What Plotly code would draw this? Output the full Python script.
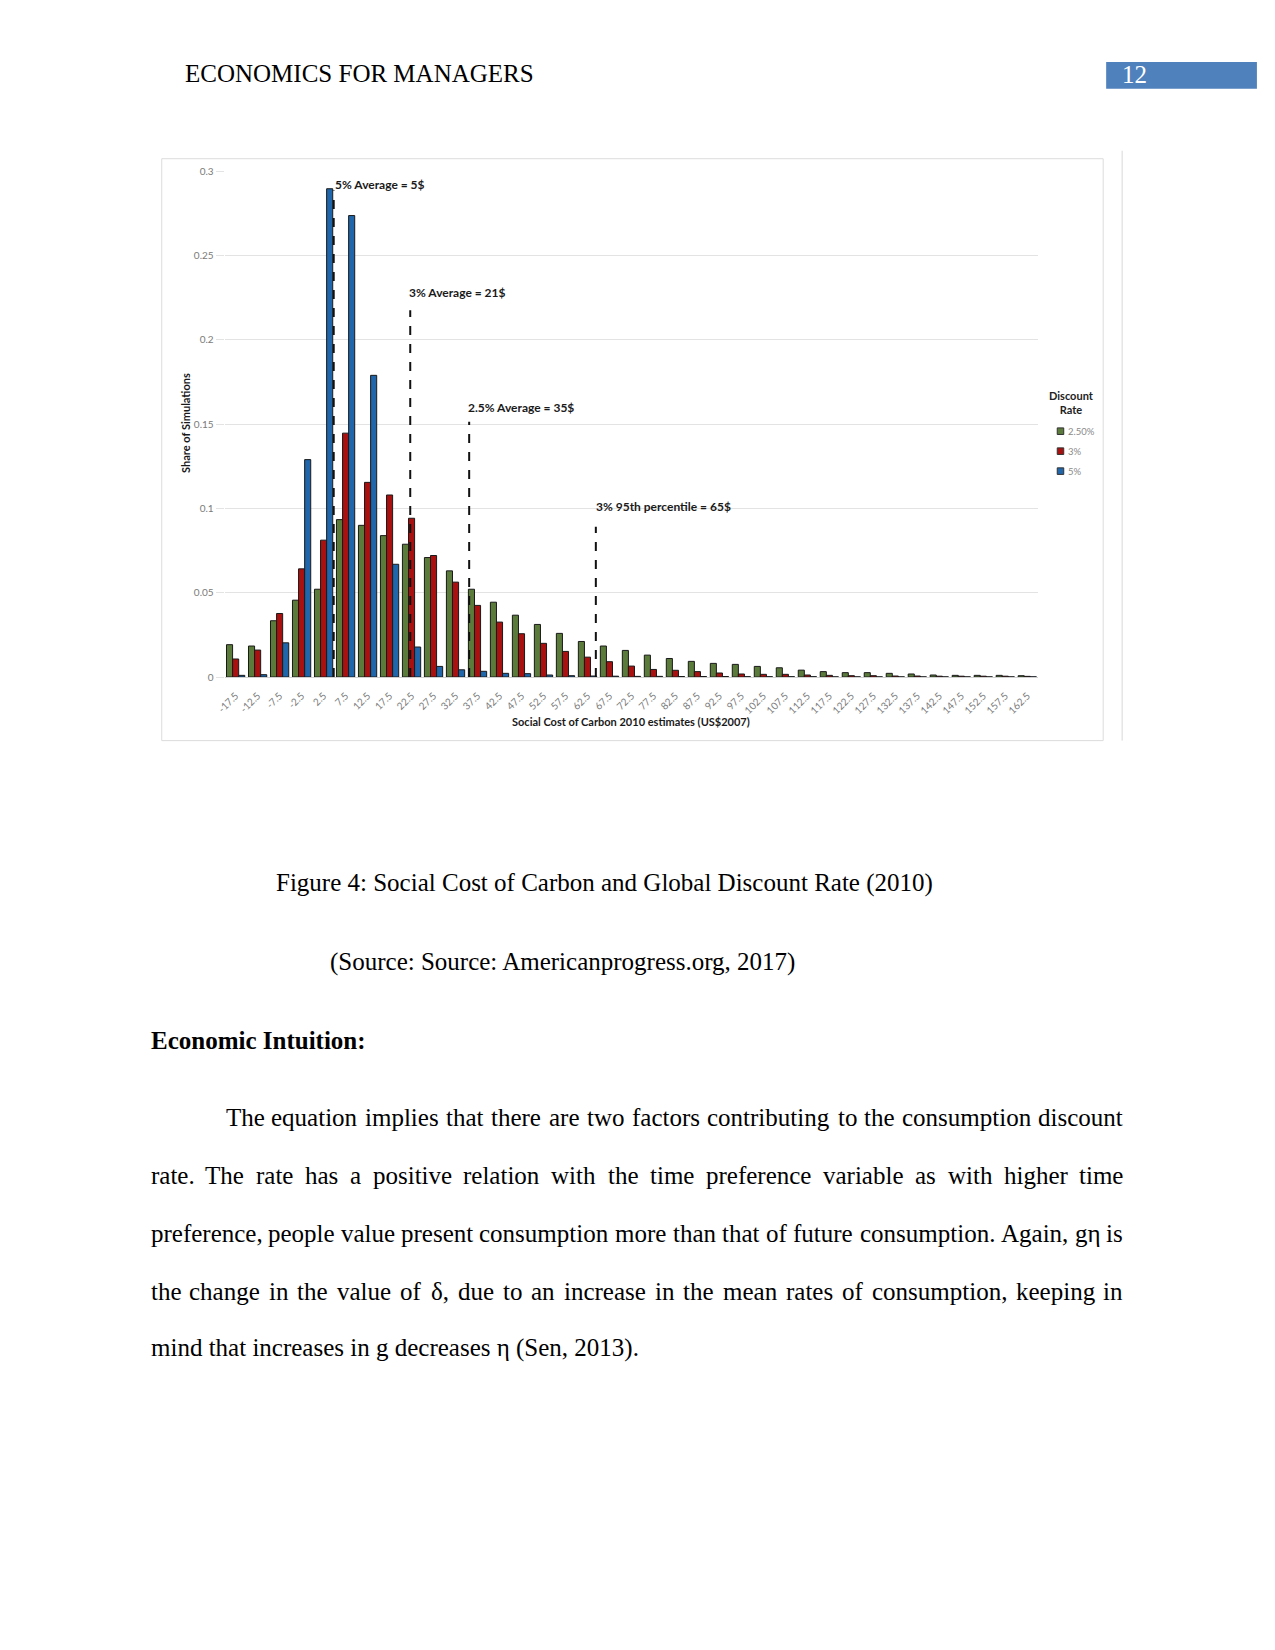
import plotly.graph_objects as go

# ---------------- data ----------------
categories = ["-17.5", "-12.5", "-7.5", "-2.5", "2.5", "7.5", "12.5", "17.5", "22.5", "27.5",
              "32.5", "37.5", "42.5", "47.5", "52.5", "57.5", "62.5", "67.5", "72.5", "77.5",
              "82.5", "87.5", "92.5", "97.5", "102.5", "107.5", "112.5", "117.5", "122.5", "127.5",
              "132.5", "137.5", "142.5", "147.5", "152.5", "157.5", "162.5"]
share_2_5 = [0.0192, 0.0184, 0.0334, 0.0456, 0.0521, 0.0934, 0.0900, 0.0839, 0.0788, 0.0709,
             0.0630, 0.0521, 0.0444, 0.0367, 0.0312, 0.0259, 0.0211, 0.0184, 0.0158, 0.0130,
             0.0110, 0.0093, 0.0081, 0.0075, 0.0063, 0.0055, 0.0041, 0.0032, 0.0026, 0.0026,
             0.0022, 0.0018, 0.0012, 0.0010, 0.0010, 0.0010, 0.0008]
share_3 = [0.0107, 0.0160, 0.0377, 0.0642, 0.0812, 0.1447, 0.1155, 0.1080, 0.0942, 0.0721,
           0.0563, 0.0425, 0.0326, 0.0257, 0.0200, 0.0152, 0.0118, 0.0091, 0.0065, 0.0045,
           0.0040, 0.0032, 0.0024, 0.0018, 0.0016, 0.0016, 0.0012, 0.0010, 0.0008, 0.0008,
           0.0006, 0.0006, 0.0005, 0.0005, 0.0005, 0.0005, 0.0004]
share_5 = [0.0010, 0.0014, 0.0203, 0.1290, 0.2897, 0.2738, 0.1790, 0.0669, 0.0178, 0.0063,
           0.0043, 0.0034, 0.0022, 0.0020, 0.0012, 0.0008, 0.0006, 0.0005, 0.0004, 0.0004,
           0.0003, 0.0003, 0.0003, 0.0002, 0.0002, 0.0002, 0.0002, 0.0001, 0.0001, 0.0001,
           0.0001, 0.0001, 0.0001, 0.0001, 0.0001, 0.0001, 0.0001]
series_names = ["2.50%", "3%", "5%"]

y_tick_vals = [0, 0.05, 0.1, 0.15, 0.2, 0.25, 0.3]
y_tick_text = ["0", "0.05", "0.1", "0.15", "0.2", "0.25", "0.3"]

# reference lines: label, position on the $ axis (as drawn), top of line (share), label height (share)
ref_labels = ["5% Average = 5$", "3% Average = 21$", "2.5% Average = 35$", "3% 95th percentile = 65$"]
ref_usd = [4.8, 22.2, 35.6, 64.4]
ref_top = [0.2887, 0.2176, 0.1514, 0.0892]
ref_label_y = [0.2922, 0.2283, 0.1600, 0.1009]
ref_label_dx = [-0.05, -0.15, -0.15, -0.1]

header_text = "ECONOMICS FOR MANAGERS"
page_number = "12"
caption_text = "Figure 4: Social Cost of Carbon and Global Discount Rate (2010)"
source_text = "(Source: Source: Americanprogress.org, 2017)"
heading_text = "Economic Intuition:"
paragraph_lines = [
    "The equation implies that there are two factors contributing to the consumption discount",
    "rate. The rate has a positive relation with the time preference variable as with higher time",
    "preference, people value present consumption more than that of future consumption. Again, gη is",
    "the change in the value of δ, due to an increase in the mean rates of consumption, keeping in",
    "mind that increases in g decreases η (Sen, 2013).",
]

# ---------------- layout helpers ----------------
W, H = 1275, 1650
PAGE_OFF = 6.0     # observed offset of the page photo
PAGE_SCALE = 0.9946

def px_x(p):
    return ((p - PAGE_OFF) / PAGE_SCALE) / W
def px_y(p):
    return 1 - ((p - PAGE_OFF) / PAGE_SCALE) / H

GREEN = "#5b7b3b"
RED = "#a8110f"
BLUE = "#1f66ab"
CHART_FONT = "Lato, 'Open Sans', sans-serif"
PAGE_FONT = "'Liberation Serif', 'Times New Roman', serif"

def cat_index(usd):
    return (usd - float(categories[0])) / 5.0

fig = go.Figure()
for name, vals, col in zip(series_names, [share_2_5, share_3, share_5], [GREEN, RED, BLUE]):
    fig.add_trace(go.Bar(
        x=list(range(len(categories))), y=vals, name=name,
        marker=dict(color=col, line=dict(color="#1a1a1a", width=1)),
    ))

x0_px, x1_px = 222, 1037
y0_px, y1_px = 677.3, 170.7

fig.update_layout(
    width=W, height=H,
    margin=dict(l=0, r=0, t=0, b=0),
    paper_bgcolor="white", plot_bgcolor="white",
    barmode="group", bargap=0.17, bargroupgap=0.0,
    font=dict(family=CHART_FONT, color="#808080", size=10),
    xaxis=dict(
        domain=[px_x(x0_px), px_x(x1_px)],
        range=[-0.5, len(categories) - 0.5],
        tickmode="array", tickvals=list(range(len(categories))), ticktext=categories,
        tickangle=-45, tickfont=dict(size=10, color="#7a7a7a", family=CHART_FONT),
        showgrid=False, zeroline=False, showline=False, ticks="outside", ticklen=8,
        tickcolor="rgba(0,0,0,0)",
    ),
    yaxis=dict(
        domain=[px_y(y0_px), px_y(y1_px)],
        range=[0, 0.3],
        tickmode="array", tickvals=y_tick_vals, ticktext=y_tick_text,
        tickfont=dict(size=10, color="#7a7a7a", family=CHART_FONT),
        showgrid=True, gridcolor="#e3e3e3", gridwidth=1,
        zeroline=True, zerolinecolor="#d0d0d0", zerolinewidth=1,
        ticks="outside", ticklen=8, tickcolor="#e3e3e3", showline=False,
    ),
    showlegend=False,
)

shapes = []
annotations = []
# chart frame
shapes.append(dict(type="rect", xref="paper", yref="paper",
                   x0=px_x(159), x1=px_x(1102), y0=px_y(741), y1=px_y(158),
                   line=dict(color="#dcdcdc", width=1), layer="below"))
shapes.append(dict(type="line", xref="paper", yref="paper",
                   x0=px_x(1121), x1=px_x(1121), y0=px_y(741), y1=px_y(150),
                   line=dict(color="#d8d8d8", width=1)))

# dashed reference lines + labels
for lab, usd, top, ly, dx in zip(ref_labels, ref_usd, ref_top, ref_label_y, ref_label_dx):
    xi = cat_index(usd)
    shapes.append(dict(type="line", xref="x", yref="y", x0=xi, x1=xi, y0=0, y1=top,
                       line=dict(color="#111111", width=2, dash="dash")))
    annotations.append(dict(xref="x", yref="y", x=xi + dx, y=ly, text="<b>" + lab + "</b>",
                            showarrow=False, xanchor="left", yanchor="middle",
                            font=dict(size=12, color="#1a1a1a", family=CHART_FONT)))

# axis titles
annotations.append(dict(xref="paper", yref="paper", x=px_x(629), y=px_y(722),
                        text="<b>Social Cost of Carbon 2010 estimates (US$2007)</b>",
                        showarrow=False, xanchor="center", yanchor="middle",
                        font=dict(size=11, color="#1a1a1a", family=CHART_FONT)))
annotations.append(dict(xref="paper", yref="paper", x=px_x(183), y=px_y(423),
                        text="<b>Share of Simulations</b>", textangle=-90,
                        showarrow=False, xanchor="center", yanchor="middle",
                        font=dict(size=11, color="#1a1a1a", family=CHART_FONT)))

# legend (drawn manually to match the compact Excel-style legend)
annotations.append(dict(xref="paper", yref="paper", x=px_x(1070), y=px_y(402),
                        text="<b>Discount<br>Rate</b>", showarrow=False,
                        xanchor="center", yanchor="middle", align="center",
                        font=dict(size=11, color="#222222", family=CHART_FONT)))
legend_y = [431, 451, 471]
for name, col, ly in zip(series_names, [GREEN, RED, BLUE], legend_y):
    shapes.append(dict(type="rect", xref="paper", yref="paper",
                       x0=px_x(1056), x1=px_x(1062.5), y0=px_y(ly + 3.3), y1=px_y(ly - 3.3),
                       fillcolor=col, line=dict(color="#333333", width=1)))
    annotations.append(dict(xref="paper", yref="paper", x=px_x(1064.5), y=px_y(ly),
                            text=name, showarrow=False, xanchor="left", yanchor="middle",
                            font=dict(size=9.5, color="#8a8a8a", family=CHART_FONT)))

# ---------------- page text ----------------
PAGE_SIZE = 25
TIMES_W = {
    'a': 444, 'b': 500, 'c': 444, 'd': 500, 'e': 444, 'f': 333, 'g': 500, 'h': 500, 'i': 278,
    'j': 278, 'k': 500, 'l': 278, 'm': 778, 'n': 500, 'o': 500, 'p': 500, 'q': 500, 'r': 333,
    's': 389, 't': 278, 'u': 500, 'v': 500, 'w': 722, 'x': 500, 'y': 500, 'z': 444,
    'A': 722, 'B': 667, 'C': 667, 'D': 722, 'E': 611, 'F': 556, 'G': 722, 'H': 722, 'I': 333,
    'J': 389, 'K': 722, 'L': 611, 'M': 889, 'N': 722, 'O': 722, 'P': 556, 'Q': 722, 'R': 667,
    'S': 556, 'T': 611, 'U': 722, 'V': 722, 'W': 944, 'X': 722, 'Y': 722, 'Z': 611,
    ',': 250, '.': 250, ':': 278, '(': 333, ')': 333, ' ': 250, 'η': 540, 'δ': 500,
}
def text_w(s):
    return sum(TIMES_W.get(c, 500) for c in s) / 1000.0 * PAGE_SIZE

def page_text(x, y, text, anchor="left", bold=False, color="black", size=PAGE_SIZE):
    t = "<b>" + text + "</b>" if bold else text
    annotations.append(dict(xref="paper", yref="paper", x=px_x(x), y=px_y(y), text=t,
                            showarrow=False, xanchor=anchor, yanchor="middle",
                            borderpad=0,
                            font=dict(size=size, color=color, family=PAGE_FONT)))

page_text(181, 73, header_text)
shapes.append(dict(type="rect", xref="paper", yref="paper",
                   x0=px_x(1105), x1=px_x(1256), y0=px_y(88), y1=px_y(61),
                   fillcolor="#4f81bd", line=dict(width=0)))
page_text(1120, 74, page_number, color="white")
page_text(272, 884, caption_text)
page_text(327, 963, source_text)
page_text(147, 1041, heading_text, bold=True)

line_y = [1119, 1177, 1235, 1293, 1350]
left_x = [222, 147, 147, 147, 147]
right_x = 1123
for i, (ln, y, lx) in enumerate(zip(paragraph_lines, line_y, left_x)):
    if i == len(paragraph_lines) - 1:
        page_text(lx, y, ln)
        continue
    words = ln.split(" ")
    total = sum(text_w(w) for w in words)
    gap = (right_x - lx - total) / (len(words) - 1)
    x = lx
    for j, w in enumerate(words):
        ww = text_w(w)
        if j == 0:
            page_text(x, y, w, anchor="left")
        elif j == len(words) - 1:
            page_text(right_x, y, w, anchor="right")
        else:
            page_text(x + ww / 2.0, y, w, anchor="center")
        x += ww + gap

fig.update_layout(shapes=shapes, annotations=annotations)
fig.write_html("out.html")
